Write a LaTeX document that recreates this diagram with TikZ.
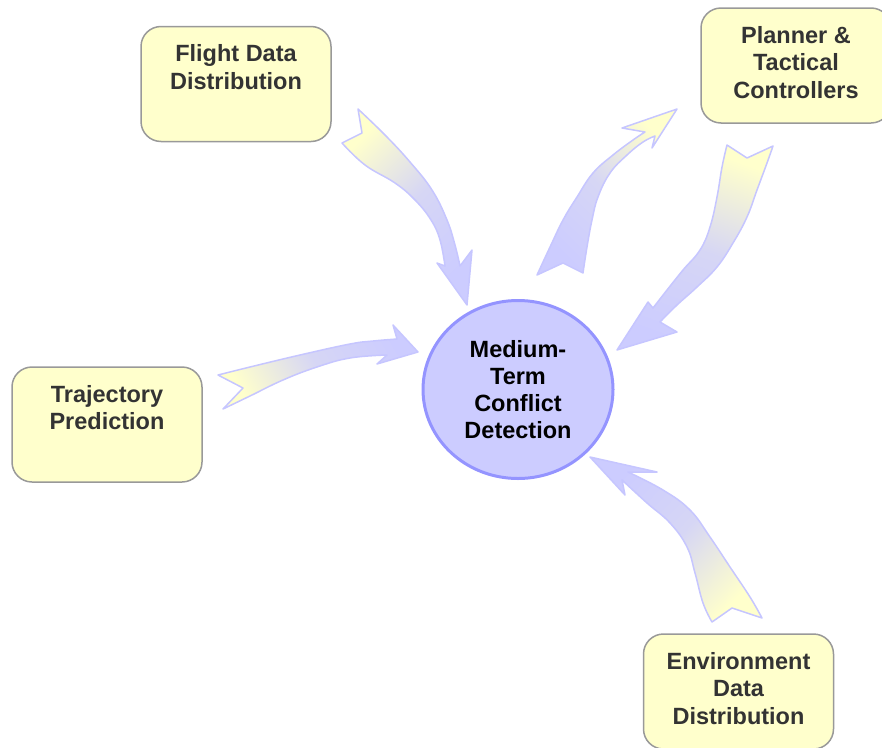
\documentclass[tikz,border=0pt]{standalone}
\usepackage{fontspec}
\setmainfont{Liberation Sans}
\usetikzlibrary{shapes.geometric}
\definecolor{boxfill}{HTML}{FFFFCC}
\definecolor{boxline}{HTML}{999999}
\definecolor{boxtext}{HTML}{333333}
\definecolor{circfill}{HTML}{CCCCFF}
\definecolor{circline}{HTML}{9494FF}
\definecolor{arrlav}{HTML}{CCCCFF}
\definecolor{arryel}{HTML}{FFFFCC}
\definecolor{arrline}{HTML}{C6C6FF}
\newcommand{\boxtxt}[1]{\parbox[c][115pt][t]{190pt}{\centering\vspace{15.75pt}#1}}
\begin{document}
\begin{tikzpicture}[x=1pt,y=-1pt,
  box/.style={draw=boxline, fill=boxfill, line width=1.5pt, rounded corners=20pt,
    inner sep=0pt, text=boxtext, font=\bfseries\fontsize{23.5}{27.5}\selectfont},
  hub/.style={ellipse, draw=circline, fill=circfill, line width=3pt,
    minimum width=190pt, minimum height=178pt, inner sep=0pt, align=center,
    font=\bfseries\fontsize{23.5}{27}\selectfont},
  flow/.style={draw=arrline, line width=1.5pt, line join=round, top color=arryel,
    bottom color=arrlav, middle color=arrlav!80!arryel}
]
\useasboundingbox (0,0) rectangle (882,747);

% boxes
\node[box] (fdd) at (236,84) {\boxtxt{Flight Data\strut\\Distribution\strut}};
\node[box] (ptc) at (796,65.5) {\boxtxt{Planner \&\strut\\Tactical\strut\\Controllers\strut}};
\node[box] (tp) at (107,424.5) {\boxtxt{Trajectory\strut\\Prediction\strut}};
\node[box] (edd) at (738.5,691.5) {\boxtxt{Environment\strut\\Data\strut\\Distribution\strut}};

% arrows
% Flight Data Distribution -> MTCD
\path[flow, shading angle=45] (362,133) -- (358,109)
  -- plot[smooth, tension=0.7] coordinates {(358,109) (385,135) (410,162) (432,190) (447,220) (455,245) (460,266)}
  -- (472,250) -- (467,305) -- (437,263)
  -- plot[smooth, tension=0.7] coordinates {(445,266) (440,240) (431,220) (415,200) (395,183) (365,165) (342,143)}
  -- cycle;
% MTCD -> Planner
\path[flow, shading angle=-45] (563,263) -- (537,275)
  -- plot[smooth, tension=0.7] coordinates {(537,275) (550,247) (563,220) (577,197) (593,173) (613,155) (633,140) (645,132)}
  -- (622,128) -- (677,109) -- (652,148)
  -- plot[smooth, tension=0.7] coordinates {(655,136) (643,142) (627,155) (610,173) (598,197) (592,220) (587,247) (583,273)}
  -- cycle;
% Planner -> MTCD
\path[flow, shading angle=-20] (747,158) -- (727,145)
  -- plot[smooth, tension=0.7] coordinates {(727,145) (722,167) (717,197) (710,227) (700,250) (683,270) (667,290) (653,308)}
  -- (648,302) -- (617,350) -- (677,332)
  -- plot[smooth, tension=0.7] coordinates {(660,322) (677,305) (697,287) (717,267) (733,243) (747,217) (757,190) (767,163) (773,146)}
  -- cycle;
% Trajectory Prediction -> MTCD
\path[flow, shading angle=120] (243,388) -- (218,375)
  -- plot[smooth, tension=0.7] coordinates {(218,375) (250,367) (300,355) (350,344) (373,341) (397,339)}
  -- (393,325) -- (418,352) -- (377,364)
  -- plot[smooth, tension=0.7] coordinates {(387,355) (350,358) (317,367) (283,380) (250,396) (223,409)}
  -- cycle;
% Environment Data Distribution -> MTCD
\path[flow, shading angle=226] (732,608) -- (762,618)
  -- plot[smooth, tension=0.7] coordinates {(762,618) (750,597) (730,567) (710,537) (690,510) (663,490) (628,472)}
  -- (657,472) -- (590,457) -- (625,495)
  -- plot[smooth, tension=0.7] coordinates {(622,480) (647,503) (670,523) (687,547) (695,573) (703,603) (712,622)}
  -- cycle;

% hub
\node[hub] (mtcd) at (518,389.5) {Medium-\\Term\\Conflict\\Detection};
\end{tikzpicture}
\end{document}
